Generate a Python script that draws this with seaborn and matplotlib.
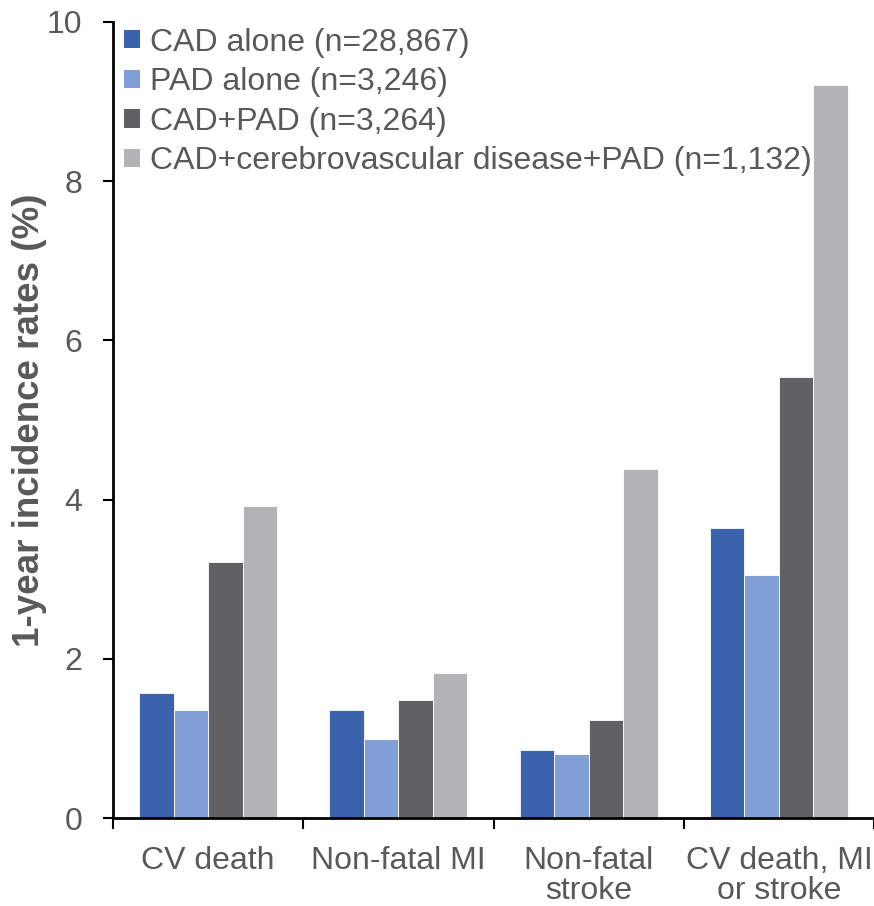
import matplotlib
matplotlib.use("Agg")
import matplotlib.pyplot as plt
import seaborn as sns
import pandas as pd
from matplotlib.ticker import FixedLocator, NullFormatter, FixedFormatter

# Outcomes and patient groups
outcomes = ["CV death", "Non-fatal MI", "Non-fatal\nstroke", "CV death, MI\nor stroke"]
groups = [
    "CAD alone (n=28,867)",
    "PAD alone (n=3,246)",
    "CAD+PAD (n=3,264)",
    "CAD+cerebrovascular disease+PAD (n=1,132)",
]

# 1-year incidence rates (%) per group, in outcome order
cad_alone = [1.57, 1.36, 0.86, 3.64]
pad_alone = [1.36, 0.99, 0.81, 3.05]
cad_pad = [3.22, 1.48, 1.23, 5.54]
cad_cvd_pad = [3.92, 1.82, 4.39, 9.21]

colors = ["#3A62AD", "#809FD6", "#616163", "#B3B3B5"]
text_color = "#595959"

rows = []
for g, vals in zip(groups, [cad_alone, pad_alone, cad_pad, cad_cvd_pad]):
    for o, v in zip(outcomes, vals):
        rows.append({"outcome": o, "group": g, "rate": v})
df = pd.DataFrame(rows)

sns.set_style("white")
plt.rcParams["font.family"] = ["Liberation Sans", "DejaVu Sans"]

fig = plt.figure(figsize=(8.74, 9.06), dpi=100)
ax = fig.add_axes([113 / 874, 1 - 818 / 906, 1 - 113 / 874, (818 - 22) / 906])

sns.barplot(data=df, x="outcome", y="rate", hue="group", order=outcomes,
            hue_order=groups, palette=colors, saturation=1, width=0.726,
            gap=0, edgecolor="white", linewidth=0.6, ax=ax)

ax.set_ylim(0, 10)
ax.set_xlim(-0.5, len(outcomes) - 0.5)
ax.set_yticks([0, 2, 4, 6, 8, 10])
ax.tick_params(axis="y", labelsize=23, labelcolor=text_color, direction="out",
               length=7, width=1.5, color="black", pad=15, left=True)

# Category ticks sit between groups; labels centred under each group
ax.xaxis.set_major_locator(FixedLocator([i - 0.5 for i in range(len(outcomes) + 1)]))
ax.xaxis.set_major_formatter(NullFormatter())
ax.xaxis.set_minor_locator(FixedLocator(range(len(outcomes))))
ax.xaxis.set_minor_formatter(FixedFormatter(outcomes))
ax.tick_params(axis="x", which="major", direction="out", length=8, width=1.5,
               color="black", bottom=True)
ax.tick_params(axis="x", which="minor", length=0, labelsize=23,
               labelcolor=text_color, pad=20)
for lbl in ax.get_xticklabels(minor=True):
    lbl.set_linespacing(1.0)
ax.set_xlabel("")

ax.set_ylabel("1-year incidence rates (%)", fontsize=26.5, fontweight="bold",
              color=text_color)
ax.yaxis.set_label_coords(-0.087, 0.5)

for side in ["top", "right"]:
    ax.spines[side].set_visible(False)
for side in ["left", "bottom"]:
    ax.spines[side].set_color("black")
    ax.spines[side].set_linewidth(2)

handles, labels = ax.get_legend_handles_labels()
leg = ax.legend(handles, labels, loc="upper left", bbox_to_anchor=(0.0, 1.007),
                frameon=False, fontsize=23, labelcolor=text_color,
                handlelength=0.5, handleheight=0.5, handletextpad=0.3,
                labelspacing=0.3, borderaxespad=0.15, borderpad=0.2)
for h in leg.legend_handles:
    h.set_edgecolor("none")

fig.savefig("out.png", dpi=100)
